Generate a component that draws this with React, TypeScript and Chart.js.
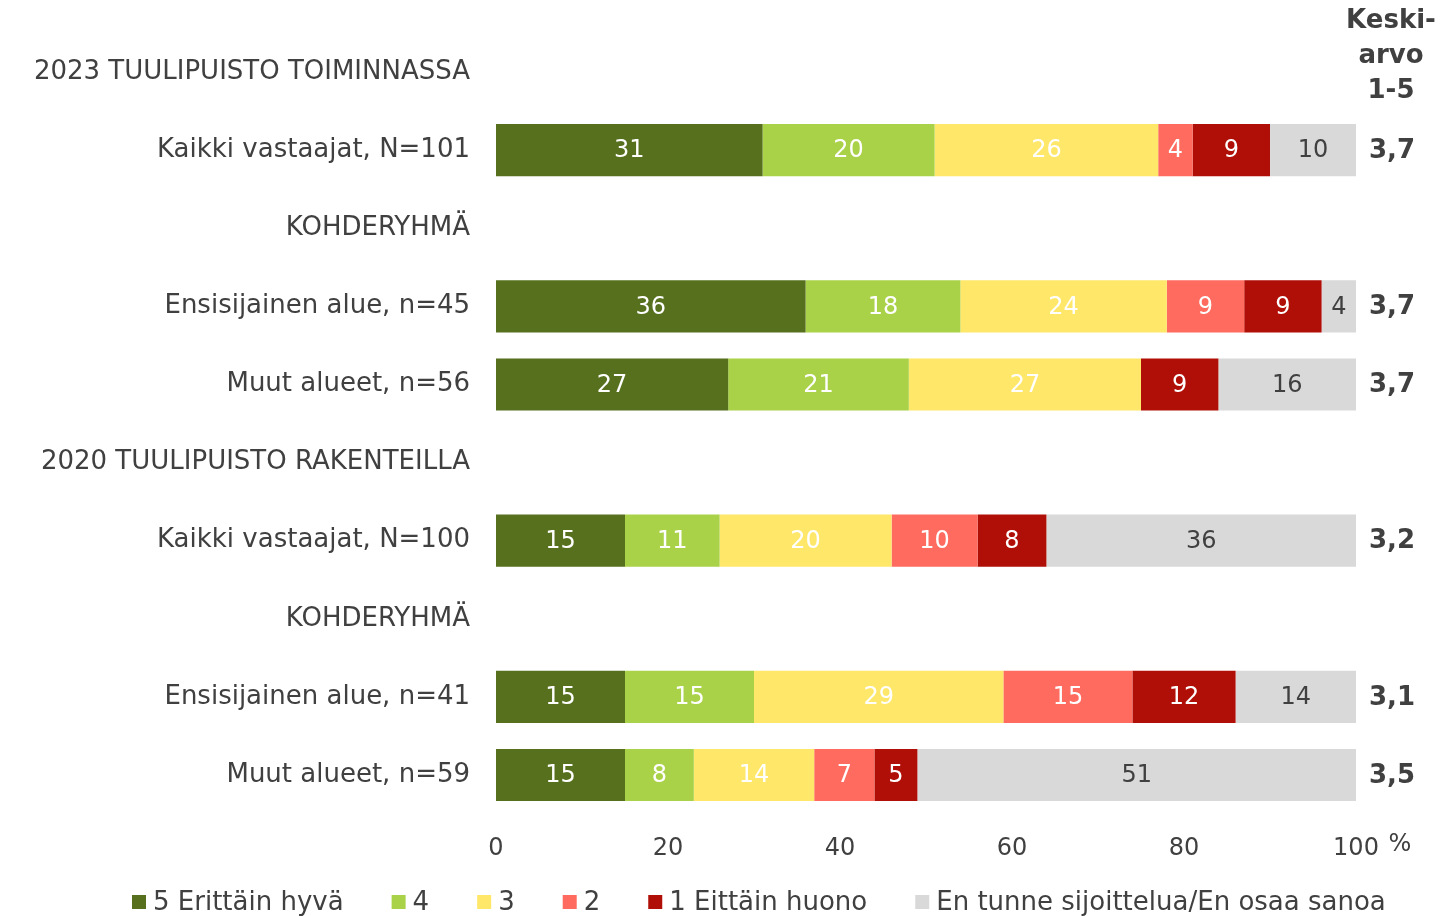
import React, { useEffect, useRef } from "react";
import { Chart, registerables } from "chart.js";

Chart.register(...registerables);

const categories = [
  "2023 TUULIPUISTO TOIMINNASSA",
  "Kaikki vastaajat, N=101",
  "KOHDERYHMÄ",
  "Ensisijainen alue, n=45",
  "Muut alueet, n=56",
  "2020 TUULIPUISTO RAKENTEILLA",
  "Kaikki vastaajat, N=100",
  "KOHDERYHMÄ",
  "Ensisijainen alue, n=41",
  "Muut alueet, n=59",
];

const seriesLabels = ["5 Erittäin hyvä", "4", "3", "2", "1 Eittäin huono", "En tunne sijoittelua/En osaa sanoa"];
const seriesColors = ["#56701E", "#A9D249", "#FFE76A", "#FF6B5F", "#B00F07", "#D9D9D9"];

const s5 = [null, 31, null, 36, 27, null, 15, null, 15, 15];
const s4 = [null, 20, null, 18, 21, null, 11, null, 15, 8];
const s3 = [null, 26, null, 24, 27, null, 20, null, 29, 14];
const s2 = [null, 4, null, 9, null, null, 10, null, 15, 7];
const s1 = [null, 9, null, 9, 9, null, 8, null, 12, 5];
const sEos = [null, 10, null, 4, 16, null, 36, null, 14, 51];

const averages = ["", "3,7", "", "3,7", "3,7", "", "3,2", "", "3,1", "3,5"];
const averageHeader = ["Keski-", "arvo", "1-5"];

const xTicks = [0, 20, 40, 60, 80, 100];

const FONT = "'DejaVu Sans', sans-serif";
const TEXT = "#404040";

export default function App() {
  const ref = useRef<HTMLCanvasElement | null>(null);

  useEffect(() => {
    if (!ref.current) return;
    const allSeries = [s5, s4, s3, s2, s1, sEos];

    const overlay = {
      id: "overlay",
      afterDatasetsDraw(chart: any) {
        const ctx = chart.ctx;
        ctx.save();
        // value labels
        ctx.font = `24px ${FONT}`;
        ctx.textAlign = "center";
        ctx.textBaseline = "middle";
        chart.data.datasets.forEach((ds: any, di: number) => {
          const meta = chart.getDatasetMeta(di);
          meta.data.forEach((el: any, i: number) => {
            const v = ds.data[i];
            if (v === null || v === undefined) return;
            const cx = (el.x + el.base) / 2;
            ctx.fillStyle = di === 5 ? TEXT : "#ffffff";
            ctx.fillText(String(v), cx, el.y + 1);
          });
        });
        // averages
        const yScale = chart.scales.y;
        ctx.font = `bold 26px ${FONT}`;
        ctx.fillStyle = TEXT;
        averages.forEach((a, i) => {
          if (!a) return;
          ctx.fillText(a, 1392, yScale.getPixelForValue(i) + 1);
        });
        averageHeader.forEach((t, i) => {
          ctx.fillText(t, 1391, 21 + i * 35);
        });
        // percent sign
        ctx.font = `24px ${FONT}`;
        ctx.fillText("%", 1400, 845);
        // legend
        ctx.font = `26px ${FONT}`;
        ctx.textAlign = "left";
        let x = 132;
        const ly = 902;
        chart.data.datasets.forEach((ds: any) => {
          ctx.fillStyle = ds.backgroundColor;
          ctx.fillRect(x, ly - 7, 14, 14);
          ctx.fillStyle = TEXT;
          ctx.fillText(ds.label, x + 21, ly + 1);
          x += 21 + ctx.measureText(ds.label).width + 48;
        });
        ctx.restore();
      },
    };

    const chart = new Chart(ref.current, {
      type: "bar",
      data: {
        labels: categories,
        datasets: allSeries.map((d, i) => ({
          label: seriesLabels[i],
          data: d,
          backgroundColor: seriesColors[i],
          borderWidth: 0,
          barPercentage: 1,
          categoryPercentage: 52 / 78,
        })),
      },
      options: {
        indexAxis: "y",
        animation: false,
        responsive: true,
        maintainAspectRatio: false,
        layout: { padding: { left: 0, right: 84, top: 33, bottom: 42 } },
        plugins: {
          legend: { display: false },
          tooltip: { enabled: false },
        },
        scales: {
          x: {
            stacked: true,
            min: 0,
            max: 100,
            afterBuildTicks: (scale: any) => {
              scale.ticks = xTicks.map((v) => ({ value: v }));
            },
            afterFit: (scale: any) => {
              scale.height = 60;
              scale.paddingLeft = 0;
              scale.paddingRight = 0;
            },
            grid: { display: false, drawTicks: false },
            border: { display: false },
            ticks: {
              color: TEXT,
              font: { family: FONT, size: 24 },
              padding: 20,
              maxRotation: 0,
            },
          },
          y: {
            stacked: true,
            afterFit: (scale: any) => {
              scale.width = 496;
              scale.paddingTop = 0;
              scale.paddingBottom = 0;
            },
            grid: { display: false, drawTicks: false },
            border: { display: false },
            ticks: {
              color: TEXT,
              font: { family: FONT, size: 26 },
              padding: 26,
              autoSkip: false,
            },
          },
        },
      } as any,
      plugins: [overlay],
    });
    return () => chart.destroy();
  }, []);

  return (
    <div style={{ position: "absolute", left: 0, top: 0, width: 1440, height: 916, background: "#fff" }}>
      <canvas ref={ref} />
    </div>
  );
}
